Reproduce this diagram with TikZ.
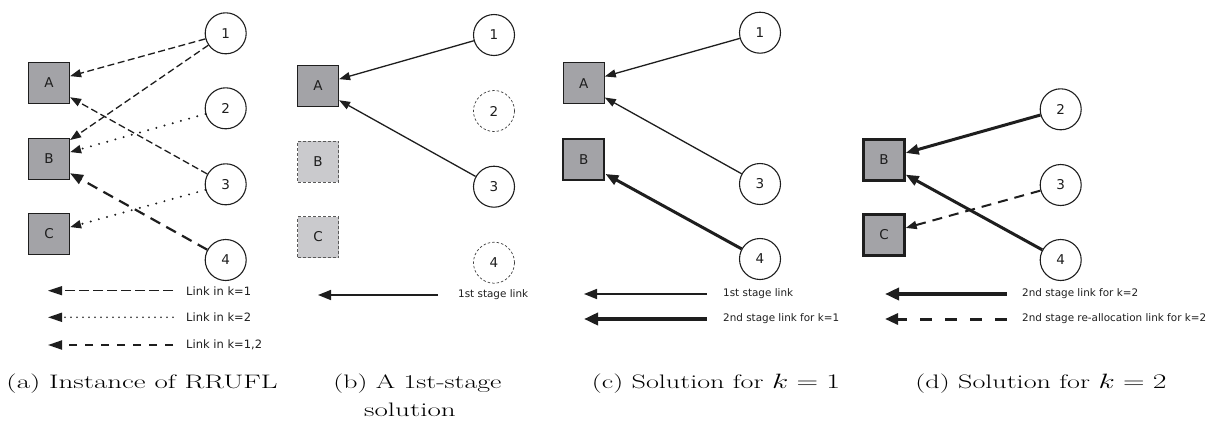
\documentclass[tikz,border=0pt]{standalone}
\usepackage{fontspec}
\newfontfamily\dv{DejaVu Sans}
\usetikzlibrary{arrows.meta}
\definecolor{facgray}{RGB}{163,163,167}
\definecolor{offgray}{RGB}{202,202,205}
\definecolor{ink}{RGB}{30,30,30}
\begin{document}
\begin{tikzpicture}[x=1pt,y=-1pt,
  fac/.style={rectangle, draw=ink, line width=1.2pt, fill=facgray, minimum size=41pt, inner sep=0pt, font=\dv\fontsize{13.5}{15}\selectfont, text=ink},
  facthick/.style={fac, line width=2.4pt},
  facoff/.style={fac, draw=black!65, fill=offgray, line width=0.8pt, dash pattern=on 3pt off 2pt},
  cust/.style={circle, draw=ink, line width=1.1pt, fill=white, minimum size=41pt, inner sep=0pt, font=\dv\fontsize{13.5}{15}\selectfont, text=ink},
  custoff/.style={cust, draw=black!75, line width=0.7pt, dash pattern=on 2.5pt off 2pt},
  tip/.style={-{Triangle[length=11pt,width=8pt]}, draw=ink},
  bigtip/.style={-{Triangle[length=13pt,width=10pt]}, draw=ink},
  lkone/.style={tip, line width=1.3pt, dash pattern=on 7pt off 3.5pt},
  lktwo/.style={tip, line width=2.2pt, line cap=round, dash pattern=on 0pt off 8.5pt},
  lkboth/.style={bigtip, line width=2.2pt, dash pattern=on 11pt off 7pt},
  firstlink/.style={tip, line width=1.3pt},
  secondlink/.style={bigtip, line width=3pt},
  realloc/.style={tip, line width=2pt, dash pattern=on 10pt off 7pt},
  legtext/.style={anchor=west, inner sep=0pt, font=\dv\fontsize{10.4}{12}\selectfont, text=ink},
  legtexta/.style={legtext, font=\dv\fontsize{11.5}{13}\selectfont},
  captext/.style={anchor=base, inner sep=0pt, font=\fontsize{19.5}{23}\selectfont}
]
\useasboundingbox (0,0) rectangle (1211,421);

% ---------- (a)
\node[fac] (aA) at (49,83) {A};
\node[fac] (aB) at (49,159) {B};
\node[fac] (aC) at (49,234) {C};
\node[cust] (a1) at (225.7,33.3) {1};
\node[cust] (a2) at (225.7,108.3) {2};
\node[cust] (a3) at (225.7,184.3) {3};
\node[cust] (a4) at (225.7,260) {4};
\draw[lkone] (a1) -- (aA.18);
\draw[lkone] (a1) -- (aB.42);
\draw[lkone] (a3) -- (aA.-34);
\draw[lktwo] (a2) -- (aB.18);
\draw[lktwo] (a3) -- (aC.18);
\draw[lkboth] (a4) -- (aB.-34);
\coordinate (aLs1) at (173,290.7); \coordinate (aLe1) at (48,290.7);
\coordinate (aLs2) at (173,317.3); \coordinate (aLe2) at (48,317.3);
\coordinate (aLs3) at (173,345);   \coordinate (aLe3) at (48,345);
\draw[-{Triangle[length=14pt,width=9pt]}, draw=ink, line width=1.4pt, dash pattern=on 10pt off 4pt] (aLs1) -- (aLe1);
\draw[-{Triangle[length=14pt,width=9pt]}, draw=ink, line width=1.8pt, line cap=round, dash pattern=on 0pt off 6pt] (aLs2) -- (aLe2);
\draw[-{Triangle[length=14pt,width=9pt]}, draw=ink, line width=2pt, dash pattern=on 8pt off 8pt] (aLs3) -- (aLe3);
\node[legtexta] (aT1) at (186,290.7) {Link in k=1};
\node[legtexta] (aT2) at (186,317.3) {Link in k=2};
\node[legtexta] (aT3) at (186,345) {Link in k=1,2};
\node[captext] (capa) at (142,388) {\resizebox{271pt}{\height}{(a) Instance of RRUFL}};

% ---------- (b)
\node[fac] (bA) at (318,86) {A};
\node[facoff] (bB) at (318,161.7) {B};
\node[facoff] (bC) at (318,237) {C};
\node[cust] (b1) at (494,35) {1};
\node[custoff] (b2) at (494,111) {2};
\node[cust] (b3) at (494,186.7) {3};
\node[custoff] (b4) at (494,262.7) {4};
\draw[firstlink] (b1) -- (bA.18);
\draw[firstlink] (b3) -- (bA.-34);
\coordinate (bLs1) at (438,295); \coordinate (bLe1) at (318,295);
\draw[bigtip, line width=1.6pt] (bLs1) -- (bLe1);
\node[legtext] (bT1) at (458,295) {1st stage link};
\node[captext] (capb1) at (417.5,388) {\resizebox{168pt}{\height}{(b) A 1st-stage}};
\node[captext] (capb2) at (410,416) {\resizebox{91.7pt}{\height}{solution}};

% ---------- (c)
\node[fac] (cA) at (583.7,83.3) {A};
\node[facthick] (cB) at (583.7,159.3) {B};
\node[cust] (c1) at (760,32.7) {1};
\node[cust] (c3) at (760,184) {3};
\node[cust] (c4) at (760,259) {4};
\draw[firstlink] (c1) -- (cA.18);
\draw[firstlink] (c3) -- (cA.-34);
\draw[secondlink] (c4) -- (cB.-34);
\coordinate (cLs1) at (706.7,294); \coordinate (cLe1) at (584,294);
\coordinate (cLs2) at (706.7,319); \coordinate (cLe2) at (584,319);
\draw[bigtip, line width=1.6pt] (cLs1) -- (cLe1);
\draw[-{Triangle[length=14pt,width=12pt]}, draw=ink, line width=4pt] (cLs2) -- (cLe2);
\node[legtext] (cT1) at (723,294) {1st stage link};
\node[legtext] (cT2) at (723,319) {2nd stage link for k=1};
\node[captext] (capc) at (716,388) {\resizebox{248pt}{\height}{(c) Solution for $k=1$}};

% ---------- (d)
\node[facthick] (dB) at (884,160) {B};
\node[facthick] (dC) at (884,235) {C};
\node[cust] (d2) at (1060.7,109.3) {2};
\node[cust] (d3) at (1060.7,185) {3};
\node[cust] (d4) at (1060.7,260) {4};
\draw[secondlink] (d2) -- (dB.18);
\draw[secondlink] (d4) -- (dB.-34);
\draw[realloc] (d3) -- (dC.18);
\coordinate (dLs1) at (1006.7,294); \coordinate (dLe1) at (885,294);
\coordinate (dLs2) at (1006.7,319); \coordinate (dLe2) at (885,319);
\draw[-{Triangle[length=14pt,width=12pt]}, draw=ink, line width=4pt] (dLs1) -- (dLe1);
\draw[-{Triangle[length=13pt,width=11pt]}, draw=ink, line width=3pt, dash pattern=on 12pt off 13pt] (dLs2) -- (dLe2);
\node[legtext] (dT1) at (1022,294) {2nd stage link for k=2};
\node[legtext] (dT2) at (1022,319) {2nd stage re-allocation link for k=2};
\node[captext] (capd) at (1041,388) {\resizebox{251pt}{\height}{(d) Solution for $k=2$}};
\end{tikzpicture}
\end{document}
